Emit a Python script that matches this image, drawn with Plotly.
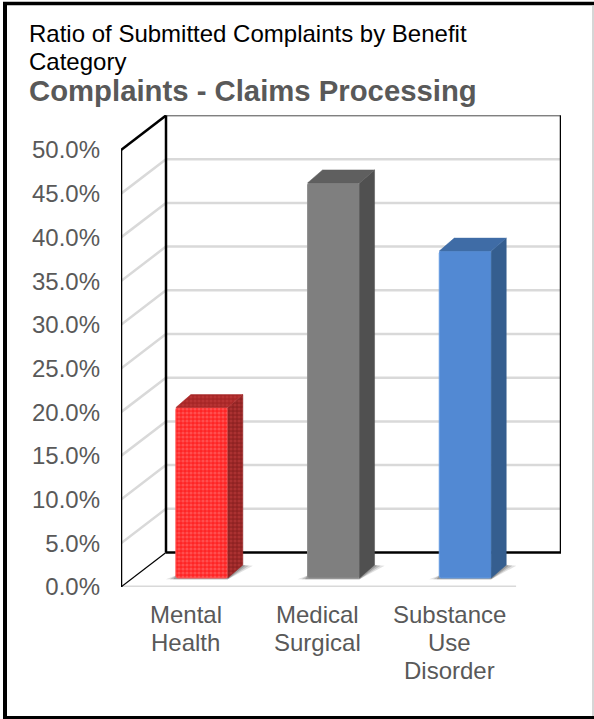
import plotly.graph_objects as go

# values
categories = [["Mental", "Health"], ["Medical", "Surgical"], ["Substance", "Use", "Disorder"]]
ratios = [19.5, 45.2, 37.4]
ticks = [0, 5, 10, 15, 20, 25, 30, 35, 40, 45, 50]
tick_labels = ["0.0%", "5.0%", "10.0%", "15.0%", "20.0%", "25.0%", "30.0%", "35.0%", "40.0%", "45.0%", "50.0%"]

front_colors = ["#ff2424", "#7f7f7f", "#5289d3"]
edge_colors = ["#ff5a5a", "#8f8f8f", "#639ae2"]
side_colors = ["#8f2222", "#505050", "#355e8f"]
top_colors = ["#a62626", "#5f5f5f", "#3f6ca6"]
patterned = [True, False, False]

# plot area in page pixels
PLOT_L, PLOT_R, PLOT_T, PLOT_B = 121, 561, 115, 587
PX_PER_CAT = 131.7
PX_PER_PCT = 8.74
X_MIN = -0.5
X_MAX = X_MIN + (PLOT_R - PLOT_L) / PX_PER_CAT
Y_MAX = (PLOT_B - PLOT_T) / PX_PER_PCT

# fake 3d offsets, in axis units
WALL_DX = 45 / PX_PER_CAT
WALL_DY = 34.5 / PX_PER_PCT
BAR_SHIFT = 15 / PX_PER_CAT
BAR_LIFT = 9 / PX_PER_PCT
BAR_WIDTH = 52 / PX_PER_CAT
BAR_DX = 15 / PX_PER_CAT
BAR_DY = 13 / PX_PER_PCT
FLOOR_END = 2.5


def page_x(px):
    return (px - PLOT_L) / (PLOT_R - PLOT_L)


def page_y(px):
    return (PLOT_B - px) / (PLOT_B - PLOT_T)


def line(x0, y0, x1, y1, color, width):
    return dict(type="line", xref="x", yref="y", x0=x0, y0=y0, x1=x1, y1=y1,
                line=dict(color=color, width=width), layer="below")


def frame_line(x0, y0, x1, y1, color, width):
    return dict(type="line", xref="paper", yref="paper", x0=page_x(x0), y0=page_y(y0), x1=page_x(x1), y1=page_y(y1),
                line=dict(color=color, width=width), layer="below")


def face(xs, ys, color, pattern):
    trace = go.Scatter(x=xs, y=ys, mode="lines", fill="toself", fillcolor=color,
                       line=dict(color=color, width=0.5), hoverinfo="skip", showlegend=False)
    if pattern:
        trace.fillpattern = dict(shape=".", size=4, solidity=0.5, fgcolor="#c84040", bgcolor=color)
    return trace


wall_x = X_MIN + WALL_DX
shapes = []

# gridlines: side wall diagonal + back wall
for t in ticks[1:]:
    shapes.append(line(X_MIN, t, wall_x, t + WALL_DY, "#d9d9d9", 2.5))
    shapes.append(line(wall_x, t + WALL_DY, X_MAX, t + WALL_DY, "#d9d9d9", 2.5))
shapes.append(line(wall_x, 50 + WALL_DY, X_MAX, 50 + WALL_DY, "#808080", 1.5))

# floor and wall outline
shapes.append(line(X_MIN, 0, FLOOR_END, 0, "#d9d9d9", 3))
shapes.append(line(wall_x, WALL_DY, X_MAX, WALL_DY, "#000000", 2.5))
shapes.append(line(X_MIN, 0, wall_x, WALL_DY, "#000000", 1.2))
shapes.append(line(X_MIN, 0, X_MIN, 50, "#000000", 2.5))
shapes.append(line(wall_x, WALL_DY, wall_x, 50 + WALL_DY, "#000000", 2.5))
shapes.append(line(X_MIN, 50, wall_x, 50 + WALL_DY, "#000000", 2.5))
shapes.append(line(X_MAX, WALL_DY, X_MAX, 50 + WALL_DY, "#000000", 2.5))

bar_x = [i + BAR_SHIFT for i in range(len(ratios))]

# soft shadows on the floor
for cx in bar_x:
    left = cx - BAR_WIDTH / 2
    right = cx + BAR_WIDTH / 2
    for grow, alpha in [(1.0, 0.16), (0.6, 0.22), (0.25, 0.28)]:
        ex = grow * 10 / PX_PER_CAT
        path = (f"M {left - ex} {BAR_LIFT - 0.15} L {right} {BAR_LIFT - 0.15} "
                f"L {right + BAR_DX + ex} {BAR_LIFT + BAR_DY * 0.95} L {right + BAR_DX} {BAR_LIFT + BAR_DY} "
                f"L {left} {BAR_LIFT + 0.3} Z")
        shapes.append(dict(type="path", xref="x", yref="y", path=path, line_width=0,
                           fillcolor=f"rgba(70,70,70,{alpha})", layer="below"))

# outer frame, right side is only a faint line
shapes.append(frame_line(3, 3.5, 594, 3.5, "#000000", 3.5))
shapes.append(frame_line(5, 2, 5, 719, "#000000", 4))
shapes.append(frame_line(3, 717.5, 594, 717.5, "#000000", 3))
shapes.append(frame_line(593, 5, 593, 716, "#c8c8c8", 1.5))

fig = go.Figure()

for i, value in enumerate(ratios):
    marker = dict(color=front_colors[i], line=dict(color=edge_colors[i], width=1), cornerradius=2)
    if patterned[i]:
        marker["pattern"] = dict(shape=".", size=4, solidity=0.5, fgcolor="#ff7a7a", bgcolor=front_colors[i])
    fig.add_trace(go.Bar(x=[bar_x[i]], y=[value], base=BAR_LIFT, width=BAR_WIDTH, marker=marker, showlegend=False))

    left = bar_x[i] - BAR_WIDTH / 2
    right = bar_x[i] + BAR_WIDTH / 2
    top = value + BAR_LIFT
    fig.add_trace(face([right, right + BAR_DX, right + BAR_DX, right, right],
                       [BAR_LIFT, BAR_LIFT + BAR_DY, top + BAR_DY, top, BAR_LIFT],
                       side_colors[i], patterned[i]))
    fig.add_trace(face([left, left + BAR_DX, right + BAR_DX, right, left],
                       [top, top + BAR_DY, top + BAR_DY, top, top],
                       top_colors[i], patterned[i]))

annotations = []


def add_text(text, x, y, size, color, bold=False, anchor="left"):
    annotations.append(dict(text=f"<b>{text}</b>" if bold else text, xref="paper", yref="paper",
                            x=page_x(x), y=page_y(y), xanchor=anchor, yanchor="middle", showarrow=False,
                            font=dict(family="Liberation Sans", size=size, color=color)))


add_text("Ratio of Submitted Complaints by Benefit", 27, 33, 24, "#000000")
add_text("Category", 27, 61, 24, "#000000")
add_text("Complaints - Claims Processing", 27, 91, 29.3, "#595959", bold=True)

# category labels, one line each to hold the original leading
for i, lines in enumerate(categories):
    for j, text in enumerate(lines):
        add_text(text, PLOT_L + PX_PER_CAT * (i + 0.5) - 1, 614 + 28 * j, 24, "#595959", anchor="center")

fig.update_layout(
    width=594,
    height=719,
    margin=dict(l=PLOT_L, r=594 - PLOT_R, t=PLOT_T, b=719 - PLOT_B),
    paper_bgcolor="#ffffff",
    plot_bgcolor="#ffffff",
    shapes=shapes,
    annotations=annotations,
    xaxis=dict(range=[X_MIN, X_MAX], showgrid=False, zeroline=False, showticklabels=False, ticks=""),
    yaxis=dict(range=[0, Y_MAX], tickvals=ticks, ticktext=tick_labels, showgrid=False, zeroline=False,
               ticks="", ticklabelstandoff=20,
               tickfont=dict(family="Liberation Sans", size=24, color="#595959")),
)

fig.write_html("out.html", config=dict(displayModeBar=False),
               post_script="document.body.style.margin='0';document.body.style.overflow='hidden';")
